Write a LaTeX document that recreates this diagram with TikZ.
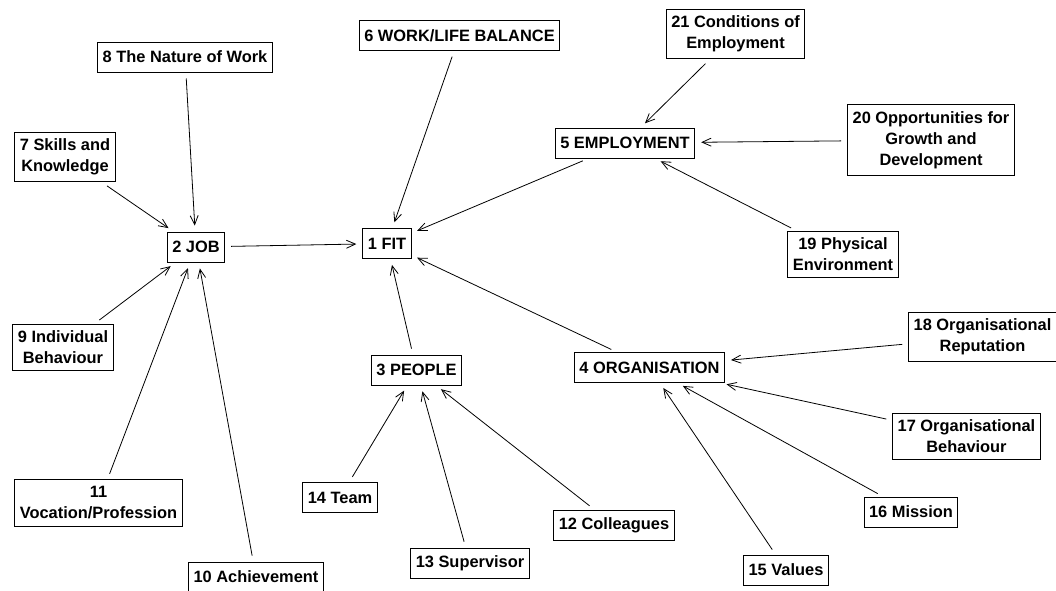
\documentclass[tikz,border=0pt]{standalone}
\usepackage{fontspec}
\setmainfont{Liberation Sans}
\usetikzlibrary{arrows.meta}

\begin{document}
\begin{tikzpicture}[x=0.5pt,y=-0.5pt,draw=black]
    \tikzstyle{factor}=[rectangle, draw=black, line width=0.5pt, align=center, inner xsep=2.5pt, inner ysep=3.4pt, minimum height=15pt, font=\fontsize{8.2}{10.5}\selectfont\bfseries]
    \tikzstyle{link}=[-{Straight Barb[length=4.5pt,width=4pt]}, line width=0.4pt, shorten >=3pt, shorten <=3pt]

    \useasboundingbox (0,0) rectangle (1056,590);

    % Draw the main factor and its five groups
    \node[factor] (F-1) at (387,243.5) {1 FIT};
    \node[factor] (F-2) at (196,247) {2 JOB};
    \node[factor] (F-3) at (416.5,370) {3 PEOPLE};
    \node[factor] (F-4) at (649.5,367.5) {4 ORGANISATION};
    \node[factor] (F-5) at (625,143) {5 EMPLOYMENT};
    \node[factor] (F-6) at (459.5,35.5) {6 WORK/LIFE BALANCE};

    % Draw the sub factors of the job
    \node[factor] (F-7) at (65,157) {7 Skills and\\Knowledge};
    \node[factor] (F-8) at (185,57) {8 The Nature of Work};
    \node[factor] (F-9) at (63,347.5) {9 Individual\\Behaviour};
    \node[factor] (F-10) at (256,577) {10 Achievement};
    \node[factor] (F-11) at (98.5,503) {11\\Vocation/Profession};

    % Draw the sub factors of the people
    \node[factor] (F-12) at (614,525) {12 Colleagues};
    \node[factor] (F-13) at (470,563) {13 Supervisor};
    \node[factor] (F-14) at (340,497.5) {14 Team};

    % Draw the sub factors of the organisation
    \node[factor] (F-15) at (786,570) {15 Values};
    \node[factor] (F-16) at (911,512) {16 Mission};
    \node[factor] (F-17) at (966.5,436.5) {17 Organisational\\Behaviour};
    \node[factor] (F-18) at (982.5,337) {18 Organisational\\Reputation};

    % Draw the sub factors of the employment
    \node[factor] (F-19) at (843,254.5) {19 Physical\\Environment};
    \node[factor] (F-20) at (931,140) {20 Opportunities for\\Growth and\\Development};
    \node[factor] (F-21) at (735.5,34) {21 Conditions of\\Employment};

    % Connect every group to the main factor
    \foreach \source in {2,...,6}
        \draw[link] (F-\source) -- (F-1);

    % Connect the sub factors to their group
    \foreach \source in {7,...,11}
        \draw[link] (F-\source) -- (F-2);
    \foreach \source in {12,13,14}
        \draw[link] (F-\source) -- (F-3);
    \foreach \source in {15,...,18}
        \draw[link] (F-\source) -- (F-4);
    \foreach \source in {19,20,21}
        \draw[link] (F-\source) -- (F-5);
\end{tikzpicture}
\end{document}
